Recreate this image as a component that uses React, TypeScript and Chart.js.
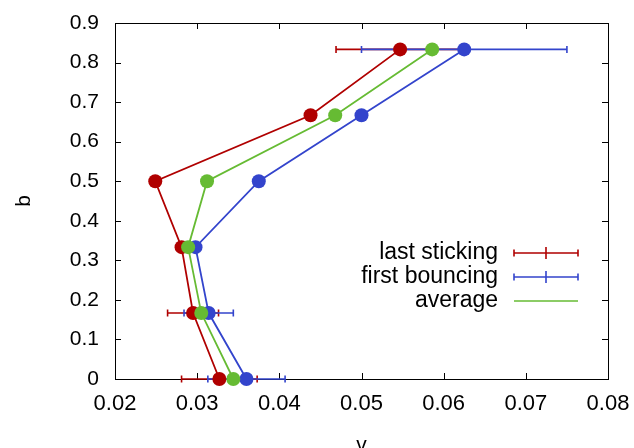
import React, { useEffect, useRef } from 'react';
import { Chart, registerables } from 'chart.js';

Chart.register(...registerables);

// b levels shared by all three series
const bLevels = [0, 0.1667, 0.3333, 0.5, 0.6667, 0.8333];

// v for each b level
const vLastSticking = [0.0327, 0.0295, 0.0281, 0.0249, 0.0438, 0.0547];
const vFirstBouncing = [0.036, 0.0314, 0.0298, 0.0375, 0.05, 0.0625];
const vAverage = [0.0344, 0.0305, 0.0289, 0.0312, 0.0468, 0.0586];

// horizontal error half-widths (0 = no bar)
const errLastSticking = [0.0046, 0.0031, 0, 0, 0, 0.0078];
const errFirstBouncing = [0.0047, 0.003, 0, 0, 0, 0.0125];

const seriesNames = ['last sticking', 'first bouncing', 'average'];

const xTickValues = [0.02, 0.03, 0.04, 0.05, 0.06, 0.07, 0.08];
const yTickValues = [0, 0.1, 0.2, 0.3, 0.4, 0.5, 0.6, 0.7, 0.8, 0.9];

const RED = '#b00000';
const BLUE = '#3344cc';
const GREEN = '#66bb33';
const FONT = '"Liberation Sans", Arial, Helvetica, sans-serif';

const toPoints = (vs: number[]) => vs.map((v, i) => ({ x: v, y: bLevels[i] }));

const framePlugin = {
  id: 'frameAndErrors',
  beforeDatasetsDraw(chart: any) {
    const { ctx, chartArea: a, scales } = chart;
    const xs = scales.x;
    const ys = scales.y;
    ctx.save();
    ctx.strokeStyle = '#000';
    ctx.lineWidth = 1;
    ctx.strokeRect(a.left + 0.5, a.top + 0.5, a.right - a.left, a.bottom - a.top);
    const tick = 6;
    ctx.beginPath();
    for (const v of xTickValues) {
      const px = Math.round(xs.getPixelForValue(v)) + 0.5;
      ctx.moveTo(px, a.bottom);
      ctx.lineTo(px, a.bottom - tick);
      ctx.moveTo(px, a.top);
      ctx.lineTo(px, a.top + tick);
    }
    for (const v of yTickValues) {
      const py = Math.round(ys.getPixelForValue(v)) + 0.5;
      ctx.moveTo(a.left, py);
      ctx.lineTo(a.left + tick, py);
      ctx.moveTo(a.right, py);
      ctx.lineTo(a.right - tick, py);
    }
    ctx.stroke();

    const drawErrors = (vs: number[], errs: number[], color: string) => {
      ctx.strokeStyle = color;
      ctx.lineWidth = 1.6;
      ctx.beginPath();
      vs.forEach((v, i) => {
        const e = errs[i];
        if (!e) return;
        const y = ys.getPixelForValue(bLevels[i]);
        const x1 = xs.getPixelForValue(v - e);
        const x2 = xs.getPixelForValue(v + e);
        ctx.moveTo(x1, y);
        ctx.lineTo(x2, y);
        ctx.moveTo(x1, y - 3.5);
        ctx.lineTo(x1, y + 3.5);
        ctx.moveTo(x2, y - 3.5);
        ctx.lineTo(x2, y + 3.5);
      });
      ctx.stroke();
    };
    drawErrors(vLastSticking, errLastSticking, RED);
    drawErrors(vFirstBouncing, errFirstBouncing, BLUE);
    ctx.restore();
  },
  afterDraw(chart: any) {
    const { ctx, chartArea: a } = chart;
    ctx.save();
    ctx.fillStyle = '#000';

    // axis titles
    ctx.font = `21px ${FONT}`;
    ctx.textAlign = 'center';
    ctx.textBaseline = 'alphabetic';
    ctx.fillText('v', (a.left + a.right) / 2, 451);
    ctx.save();
    ctx.translate(30, (a.top + a.bottom) / 2);
    ctx.rotate(-Math.PI / 2);
    ctx.fillText('b', 0, 0);
    ctx.restore();

    // key
    ctx.font = `23px ${FONT}`;
    const textRight = 498;
    const lineL = 514;
    const lineR = 578;
    const rows = [253, 277, 301];
    const colors = [RED, BLUE, GREEN];
    ctx.textAlign = 'right';
    ctx.textBaseline = 'middle';
    rows.forEach((y, i) => {
      ctx.fillStyle = '#000';
      ctx.fillText(seriesNames[i], textRight, y);
      ctx.strokeStyle = colors[i];
      ctx.lineWidth = 1.6;
      ctx.beginPath();
      ctx.moveTo(lineL, y);
      ctx.lineTo(lineR, y);
      if (i < 2) {
        ctx.moveTo(lineL, y - 3.5);
        ctx.lineTo(lineL, y + 3.5);
        ctx.moveTo(lineR, y - 3.5);
        ctx.lineTo(lineR, y + 3.5);
        const mid = (lineL + lineR) / 2;
        ctx.moveTo(mid, y - 6);
        ctx.lineTo(mid, y + 6);
      }
      ctx.stroke();
    });
    ctx.restore();
  },
};

export default function App() {
  const canvasRef = useRef<HTMLCanvasElement | null>(null);

  useEffect(() => {
    document.body.style.margin = '0';
    const canvas = canvasRef.current;
    if (!canvas) return;

    const mk = (label: string, vs: number[], color: string, order: number) => ({
      label,
      data: toPoints(vs),
      showLine: true,
      borderColor: color,
      backgroundColor: color,
      borderWidth: 1.8,
      pointRadius: 7,
      pointBorderWidth: 0,
      pointHoverRadius: 7,
      clip: false as any,
      order,
    });

    const chart = new Chart(canvas, {
      type: 'scatter',
      data: {
        datasets: [
          mk(seriesNames[0], vLastSticking, RED, 3),
          mk(seriesNames[1], vFirstBouncing, BLUE, 2),
          mk(seriesNames[2], vAverage, GREEN, 1),
        ],
      },
      options: {
        responsive: false,
        animation: false,
        events: [],
        layout: { padding: { top: 23, right: 26, left: 0, bottom: 0 } },
        plugins: { legend: { display: false }, tooltip: { enabled: false } },
        scales: {
          x: {
            type: 'linear',
            min: 0.02,
            max: 0.08,
            grid: { display: false, drawTicks: false },
            border: { display: false },
            afterBuildTicks: (s: any) => {
              s.ticks = xTickValues.map((value) => ({ value }));
            },
            afterFit: (s: any) => {
              s.height = 69;
              s.paddingLeft = 0;
              s.paddingRight = 0;
            },
            ticks: {
              color: '#000',
              font: { family: FONT, size: 22 },
              padding: 12,
              maxRotation: 0,
              autoSkip: false,
              callback: (v: any) => String(v),
            },
          },
          y: {
            type: 'linear',
            min: 0,
            max: 0.9,
            grid: { display: false, drawTicks: false },
            border: { display: false },
            afterBuildTicks: (s: any) => {
              s.ticks = yTickValues.map((value) => ({ value }));
            },
            afterFit: (s: any) => {
              s.width = 115;
              s.paddingTop = 0;
              s.paddingBottom = 0;
            },
            ticks: {
              color: '#000',
              font: { family: FONT, size: 21 },
              padding: 16,
              autoSkip: false,
              callback: (v: any) => String(v),
            },
          },
        },
      },
      plugins: [framePlugin],
    });

    return () => chart.destroy();
  }, []);

  return <canvas ref={canvasRef} width={634} height={448} style={{ display: 'block' }} />;
}
